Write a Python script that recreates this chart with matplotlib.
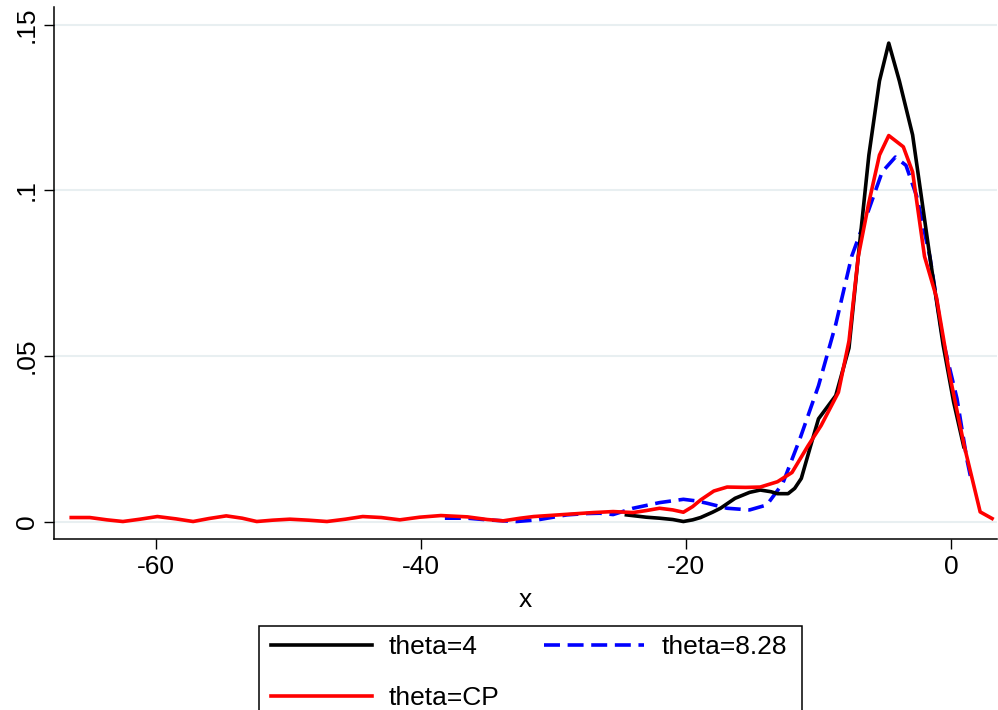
import matplotlib
matplotlib.use("Agg")
import matplotlib.pyplot as plt
from matplotlib.patches import Rectangle

plt.rcParams['font.family'] = ['Liberation Sans', 'DejaVu Sans']
plt.rcParams['lines.scale_dashes'] = False

# Density estimates of x under three theta settings
x_theta4 = [-24.5, -23.0, -22.0, -21.0, -20.2, -19.5, -18.9, -18.0, -17.4, -16.3,
            -15.2, -14.4, -13.6, -13.1, -12.3, -11.8, -11.3, -10.6, -10.0, -8.7,
            -7.7, -7.0, -6.2, -5.4, -4.7, -3.9, -2.9, -1.6, -0.6, 0.2, 0.96]
y_theta4 = [0.0020, 0.0013, 0.0010, 0.0006, 0.0000, 0.0005, 0.0012, 0.0028, 0.0040, 0.0070,
            0.0088, 0.0095, 0.0090, 0.0084, 0.0084, 0.0100, 0.0130, 0.0228, 0.0310, 0.0380,
            0.0524, 0.0800, 0.1106, 0.1330, 0.1444, 0.1330, 0.1167, 0.0800, 0.0534, 0.0360, 0.0226]

x_theta828 = [-38.2, -36.5, -35.0, -33.8, -32.8, -31.2, -29.0, -27.5, -26.5, -25.5,
              -24.0, -22.0, -20.2, -19.2, -18.4, -16.9, -15.2, -13.9, -12.7, -11.4,
              -10.0, -8.7, -7.5, -6.2, -5.2, -4.2, -3.4, -2.6, -1.6, -0.6, 0.45, 1.2, 1.5]
y_theta828 = [0.0010, 0.0010, 0.0005, 0.0002, 0.0000, 0.0005, 0.0020, 0.0024, 0.0025, 0.0021,
              0.0040, 0.0057, 0.0067, 0.0062, 0.0055, 0.0040, 0.0035, 0.0050, 0.0115, 0.0250,
              0.0410, 0.0595, 0.0800, 0.0942, 0.1055, 0.1100, 0.1075, 0.0983, 0.0800, 0.0545,
              0.0371, 0.0187, 0.0130]

x_thetacp = [-66.4, -65.0, -63.7, -62.5, -61.2, -59.9, -58.5, -57.2, -56.0, -54.7,
             -53.5, -52.4, -51.2, -49.9, -48.5, -47.1, -45.7, -44.4, -43.0, -41.6,
             -40.1, -38.5, -36.5, -35.0, -33.8, -32.5, -31.5, -30.0, -28.5, -27.0,
             -25.5, -24.0, -23.0, -22.0, -21.0, -20.2, -19.5, -18.9, -17.9, -16.9,
             -15.5, -14.4, -13.1, -12.0, -10.8, -9.8, -8.5, -7.7, -7.0, -6.2,
             -5.4, -4.7, -3.6, -2.9, -2.0, -1.1, -0.1, 1.0, 2.2, 3.1]
y_thetacp = [0.0012, 0.0012, 0.0005, 0.0000, 0.0007, 0.0015, 0.0008, 0.0000, 0.0009, 0.0017,
             0.0010, 0.0000, 0.0004, 0.0007, 0.0004, 0.0000, 0.0007, 0.0015, 0.0012, 0.0005,
             0.0013, 0.0018, 0.0014, 0.0006, 0.0002, 0.0010, 0.0015, 0.0019, 0.0023, 0.0027,
             0.0030, 0.0027, 0.0033, 0.0040, 0.0035, 0.0028, 0.0045, 0.0065, 0.0092, 0.0104,
             0.0103, 0.0104, 0.0120, 0.0148, 0.0228, 0.0290, 0.0390, 0.0545, 0.0800, 0.0963,
             0.1106, 0.1165, 0.1131, 0.1055, 0.0800, 0.0677, 0.0442, 0.0228, 0.0029, 0.0009]

x_ticks = [-60, -40, -20, 0]
y_ticks = [0, 0.05, 0.1, 0.15]
y_tick_labels = ['0', '.05', '.1', '.15']

FS = 19
W, H = 998, 710
fig = plt.figure(figsize=(W / 100, H / 100), dpi=100)
ax = fig.add_axes([54 / W, 1 - 539 / H, 943 / W, 532 / H])

grid_color = '#e8eff1'
for yt in y_ticks:
    ax.axhline(yt, color=grid_color, lw=1.5, zorder=0)

lw = 2.6
l1, = ax.plot(x_theta4, y_theta4, color='black', lw=lw, label='theta=4', zorder=3)
l2, = ax.plot(x_theta828, y_theta828, color='#0000ff', lw=lw, label='theta=8.28',
              dashes=(11.5, 5.5), zorder=2)
l3, = ax.plot(x_thetacp, y_thetacp, color='#ff0000', lw=lw, label='theta=CP', zorder=4)

ax.set_xlim(-67.7, 3.47)
ax.set_ylim(-0.00528, 0.1553)

for side in ('top', 'right'):
    ax.spines[side].set_visible(False)
for side in ('left', 'bottom'):
    ax.spines[side].set_linewidth(1.1)

ax.set_xticks(x_ticks)
ax.set_xticklabels([str(v) for v in x_ticks])
ax.set_yticks(y_ticks)
ax.set_yticklabels(y_tick_labels, rotation=90, va='center')
ax.tick_params(axis='both', direction='out', length=7, width=1.0, labelsize=FS)
ax.tick_params(axis='x', pad=4.5)
ax.tick_params(axis='y', pad=4)

ax.set_xlabel('x', fontsize=FS, labelpad=6.5)

# Legend box runs past the bottom edge of the figure
fig.patches.append(Rectangle((259 / W, -0.1), (802 - 259) / W, 0.1 + 1 - 626 / H,
                             transform=fig.transFigure, fill=False,
                             edgecolor='black', lw=1.1))

# Two columns, filled column-wise: theta=4 / theta=CP on the left, theta=8.28 on the right
leg = fig.legend(handles=[l1, l3, l2], loc='upper left',
                 bbox_to_anchor=(262 / W, 1 - 626 / H),
                 ncol=2, fontsize=FS, frameon=False,
                 handlelength=3.8, handletextpad=0.64,
                 columnspacing=1.7, labelspacing=1.03, borderpad=0.35,
                 borderaxespad=0.0)

fig.savefig('out.png', dpi=100)
